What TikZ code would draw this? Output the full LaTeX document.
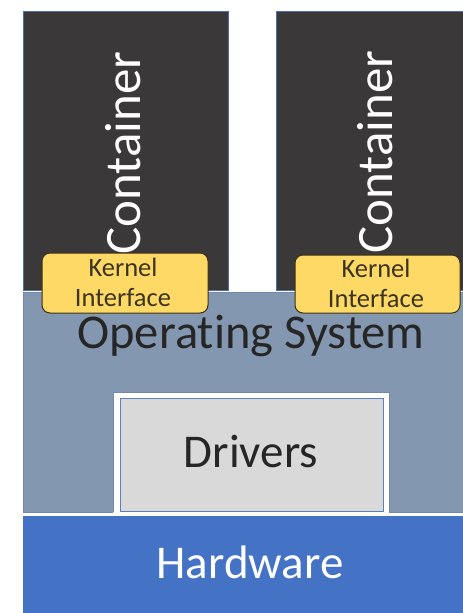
\documentclass[tikz,border=0pt]{standalone}
\usepackage{fontspec}
\setmainfont{Carlito}[Ligatures=NoCommon]
\definecolor{contfill}{HTML}{3A3838}
\definecolor{contedge}{HTML}{4A6FB0}
\definecolor{osfill}{HTML}{8497B0}
\definecolor{osedge}{HTML}{7188AA}
\definecolor{hwfill}{HTML}{4472C4}
\definecolor{drvfill}{HTML}{D9D9D9}
\definecolor{drvedge}{HTML}{5E7FB8}
\definecolor{kfill}{HTML}{FFD966}
\definecolor{kedge}{HTML}{3A3010}
\definecolor{ktext}{HTML}{3A3420}
\begin{document}
\begin{tikzpicture}[x=1pt,y=-1pt,
  container/.style={fill=contfill,draw=contedge,line width=0.8pt},
  kbox/.style={fill=kfill,draw=kedge,line width=1pt,rounded corners=8pt},
  ktxt/.style={font=\fontsize{26.5}{30}\selectfont,text=ktext,inner sep=0pt,anchor=base,
    text height=18pt,text depth=0pt},
  bigtxt/.style={font=\fontsize{47}{50}\selectfont,inner sep=0pt,anchor=base,
    text height=31pt}]
\useasboundingbox (0,0) rectangle (463,613);
\clip (0,0) rectangle (463,613);
\fill[white] (0,0) rectangle (463,613);
% containers
\draw[container] (23,11) rectangle (228,290);
\draw[container] (276,11) rectangle (470,290);
\node[bigtxt,font=\fontsize{51}{56}\selectfont,text=white,rotate=90] (c1) at (140,153) {Container};
\node[bigtxt,font=\fontsize{51}{56}\selectfont,text=white,rotate=90] (c2) at (392,152) {Container};
% operating system
\draw[fill=osfill,draw=osedge,line width=0.8pt] (23,292) rectangle (470,512);
\node[bigtxt,font=\fontsize{48.5}{52}\selectfont,text=black!85] (os) at (251,348) {Operating System};
% drivers
\fill[white] (113,392) rectangle (389,514);
\draw[osedge,line width=0.6pt] (113,512) -- (113,392) -- (389,392) -- (389,512);
\draw[fill=drvfill,draw=drvedge,line width=0.8pt] (120,398) rectangle (383,511);
\node[bigtxt,text=black!85] (drv) at (251,467) {Drivers};
% hardware
\fill[hwfill] (23,516) rectangle (470,620);
\node[bigtxt,text=white] (hw) at (250,578) {Hardware};
% kernel interfaces
\draw[kbox] (42,253) rectangle (208,313);
\draw[kbox] (295,255) rectangle (460,313);
\node[ktxt] (k1a) at (123,276) {Kernel};
\node[ktxt] (k1b) at (123,306) {Interface};
\node[ktxt] (k2a) at (376,277) {Kernel};
\node[ktxt] (k2b) at (376,307) {Interface};
\end{tikzpicture}
\end{document}
